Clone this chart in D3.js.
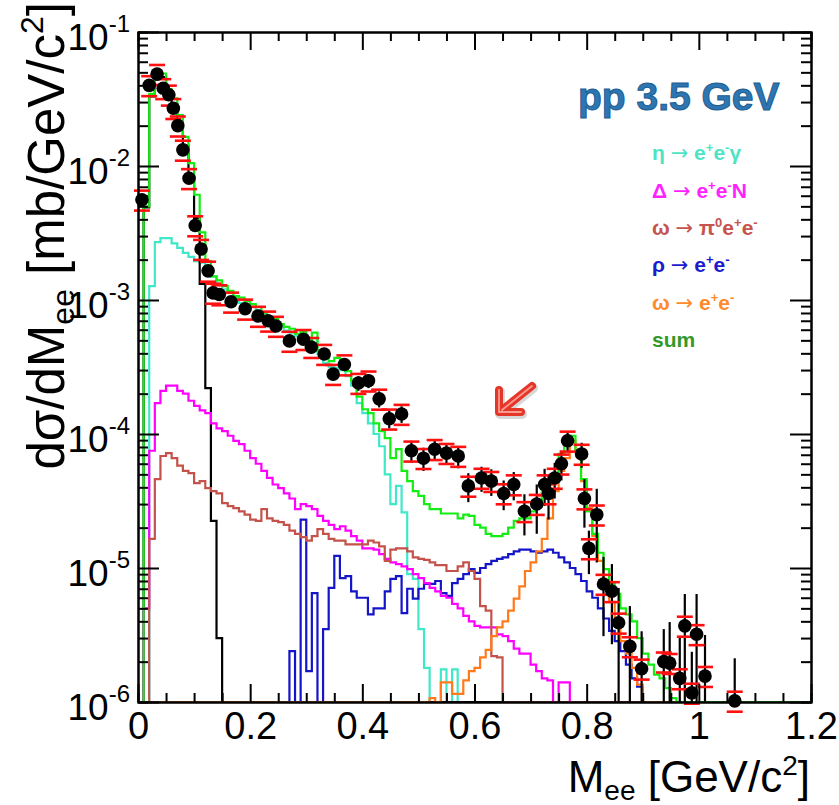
<!DOCTYPE html>
<html>
<head>
<meta charset="UTF-8">
<title>pp 3.5 GeV dielectron spectrum</title>
<script src="https://cdn.jsdelivr.net/npm/d3@7"></script>
<style>
  body { margin: 0; background: #fff; }
  svg text { font-family: "Liberation Sans", Arial, Helvetica, sans-serif; }
</style>
</head>
<body>
<svg id="chart" width="839" height="805"></svg>
<script>
// histogram bins are 0.01 GeV/c2 wide, values in mb/GeV/c2
var binWidth = 0.01;

var pi0Start = 0;
var pi0Dalitz = [0, 4.9e-3, 3.3e-2, 4.6e-2, 4.6e-2, 3.45e-2, 2.9e-2, 2.15e-2, 1.42e-2, 8.3e-3,
  4.1e-3, 1.32e-3, 2.2e-4, 2.25e-5, 3.0e-6];

var etaStart = 0;
var etaDalitz = [0, 0, 1.27e-3, 2.7e-3, 2.9e-3, 2.9e-3, 2.65e-3, 2.45e-3, 2.25e-3, 2.1e-3,
  1.95e-3, 1.9e-3, 1.7e-3, 1.5e-3, 1.32e-3, 1.2e-3, 1.13e-3, 1.04e-3, 9.5e-4, 9.2e-4,
  8.9e-4, 8.4e-4, 7.6e-4, 7.0e-4, 6.9e-4, 6.4e-4, 5.9e-4, 5.7e-4, 5.4e-4, 5.2e-4,
  4.8e-4, 5.2e-4, 3.95e-4, 3.4e-4, 3.15e-4, 3.1e-4, 3.0e-4, 2.7e-4, 2.3e-4, 1.7e-4,
  1.43e-4, 1.2e-4, 1.0e-4, 8.1e-5, 5.0e-5, 3.0e-5, 4.1e-5, 2.6e-5, 9.0e-6, 8.3e-6,
  3.5e-6, 1.8e-6, 0, 0, 1.75e-6, 1.0e-6, 1.75e-6];

var deltaStart = 0;
var deltaDalitz = [0, 5e-6, 7.5e-5, 1.7e-4, 2.1e-4, 2.3e-4, 2.3e-4, 2.1e-4, 2.0e-4, 1.77e-4,
  1.62e-4, 1.5e-4, 1.43e-4, 1.2e-4, 1.1e-4, 1.05e-4, 9.7e-5, 8.9e-5, 8.4e-5, 7.5e-5,
  6.6e-5, 6.0e-5, 5.3e-5, 4.7e-5, 4.2e-5, 3.95e-5, 3.6e-5, 3.3e-5, 2.75e-5, 3.0e-5,
  2.9e-5, 2.75e-5, 2.45e-5, 2.25e-5, 2.1e-5, 1.95e-5, 2.05e-5, 1.9e-5, 1.73e-5, 1.6e-5,
  1.4e-5, 1.4e-5, 1.37e-5, 1.27e-5, 1.17e-5, 1.1e-5, 1.07e-5, 1.03e-5, 9.8e-6, 9.0e-6,
  8.4e-6, 7.7e-6, 7.1e-6, 6.7e-6, 6.2e-6, 6.0e-6, 5.4e-6, 5.0e-6, 4.4e-6, 4.0e-6,
  3.7e-6, 3.6e-6, 3.6e-6, 3.6e-6, 3.2e-6, 3.1e-6, 2.85e-6, 2.5e-6, 2.3e-6, 2.3e-6,
  1.9e-6, 1.7e-6, 1.5e-6, 1.45e-6, 0, 1.4e-6, 1.4e-6];

var omegaDalStart = 0;
var omegaDalitz = [0, 0, 1.65e-5, 4.6e-5, 6.85e-5, 7.2e-5, 6.6e-5, 5.8e-5, 5.3e-5, 5.1e-5,
  4.3e-5, 4.45e-5, 3.95e-5, 3.75e-5, 3.6e-5, 3.05e-5, 2.9e-5, 2.8e-5, 2.65e-5, 2.5e-5,
  2.3e-5, 2.25e-5, 2.75e-5, 2.35e-5, 2.25e-5, 2.2e-5, 2.1e-5, 1.9e-5, 1.8e-5, 1.7e-5,
  1.6e-5, 1.73e-5, 1.95e-5, 1.8e-5, 1.65e-5, 1.6e-5, 1.6e-5, 1.5e-5, 1.5e-5, 1.5e-5,
  1.5e-5, 1.6e-5, 1.55e-5, 1.45e-5, 1.13e-5, 1.37e-5, 1.4e-5, 1.4e-5, 1.33e-5, 1.2e-5,
  1.17e-5, 1.15e-5, 1.1e-5, 1.05e-5, 1.05e-5, 9.5e-6, 9.5e-6, 1.03e-5, 1.1e-5, 9.5e-6,
  8.3e-6, 5.2e-6, 4.8e-6, 2.2e-6, 2.15e-6];

var rhoStart = 0.27;
var rhoEE = [2.4e-6, 0, 2.3e-5, 1.7e-6, 6.5e-6, 0, 3.5e-6, 7.1e-6, 1.23e-5, 8.4e-6,
  8.7e-6, 6.7e-6, 6.0e-6, 6.0e-6, 4.5e-6, 5.0e-6, 5.0e-6, 6.7e-6, 8.3e-6, 8.7e-6,
  4.6e-6, 7.0e-6, 5.9e-6, 7.0e-6, 7.6e-6, 7.6e-6, 8.0e-6, 6.5e-6, 6.2e-6, 7.7e-6,
  8.3e-6, 9.0e-6, 9.8e-6, 9.2e-6, 1.0e-5, 1.07e-5, 1.13e-5, 1.17e-5, 1.2e-5, 1.27e-5,
  1.33e-5, 1.37e-5, 1.37e-5, 1.33e-5, 1.3e-5, 1.33e-5, 1.37e-5, 1.3e-5, 1.2e-5, 1.1e-5,
  1.0e-5, 9.0e-6, 8.0e-6, 6.7e-6, 6.0e-6, 5.0e-6, 4.2e-6, 3.4e-6, 2.85e-6, 2.4e-6,
  1.9e-6, 1.5e-6, 1.3e-6];

var omegaEEStart = 0.52;
var omegaEE = [1.07e-6, 0, 1.4e-6, 1.4e-6, 1.15e-6, 1.15e-6, 1.45e-6, 1.7e-6, 1.8e-6, 2.15e-6,
  2.45e-6, 3.1e-6, 3.6e-6, 4.0e-6, 4.8e-6, 5.9e-6, 7.3e-6, 9.5e-6, 1.1e-5, 1.33e-5,
  1.65e-5, 2.35e-5, 3.75e-5, 5.3e-5, 6.6e-5, 8.9e-5, 7.5e-5, 4.45e-5, 2.8e-5, 1.73e-5,
  1.13e-5, 8.0e-6, 5.6e-6, 3.7e-6, 2.85e-6, 2.3e-6, 1.8e-6, 1.35e-6];

var sumStart = 0;
var sumAll = [0, 5.0e-3, 3.45e-2, 4.9e-2, 4.9e-2, 3.75e-2, 3.2e-2, 2.4e-2, 1.65e-2, 1.05e-2,
  6.1e-3, 3.2e-3, 1.95e-3, 1.5e-3, 1.4e-3, 1.27e-3, 1.17e-3, 1.07e-3, 1.04e-3, 9.8e-4,
  9.3e-4, 8.9e-4, 8.0e-4, 7.5e-4, 7.2e-4, 6.6e-4, 6.3e-4, 6.1e-4, 5.6e-4, 5.8e-4,
  4.95e-4, 5.7e-4, 4.15e-4, 3.8e-4, 3.5e-4, 3.7e-4, 3.3e-4, 2.95e-4, 2.5e-4, 1.9e-4,
  1.53e-4, 1.43e-4, 1.2e-4, 1.05e-4, 9.3e-5, 6.6e-5, 7.7e-5, 5.3e-5, 4.45e-5, 3.75e-5,
  3.45e-5, 3.0e-5, 2.75e-5, 2.75e-5, 2.55e-5, 2.55e-5, 2.55e-5, 2.35e-5, 2.5e-5, 2.45e-5,
  2.1e-5, 2.0e-5, 1.8e-5, 1.73e-5, 1.73e-5, 1.8e-5, 2.0e-5, 2.25e-5, 2.35e-5, 2.35e-5,
  2.65e-5, 2.9e-5, 3.75e-5, 4.45e-5, 5.1e-5, 7.1e-5, 8.4e-5, 9.7e-5, 7.5e-5, 4.6e-5,
  2.65e-5, 1.8e-5, 1.3e-5, 9.8e-6, 7.6e-6, 6.4e-6, 5.0e-6, 4.5e-6, 4.0e-6, 3.0e-6,
  2.3e-6, 1.9e-6, 1.6e-6, 1.5e-6, 1.27e-6, 1.07e-6];

// measured points
var dataMass = [0.007, 0.020, 0.034, 0.045, 0.055, 0.063, 0.071, 0.080, 0.091, 0.102,
  0.1125, 0.125, 0.134, 0.145, 0.166, 0.191, 0.214, 0.232, 0.246, 0.270,
  0.295, 0.309, 0.332, 0.348, 0.368, 0.393, 0.411, 0.430, 0.448, 0.470,
  0.4875, 0.509, 0.529, 0.550, 0.571, 0.589, 0.6125, 0.630, 0.652, 0.670,
  0.689, 0.711, 0.725, 0.732, 0.743, 0.755, 0.766, 0.791, 0.796, 0.804,
  0.818, 0.830, 0.845, 0.857, 0.877, 0.898, 0.9375, 0.948, 0.966, 0.975,
  0.9875, 0.996, 1.011, 1.064];
var dataValue = [5.6e-3, 4.0e-2, 4.85e-2, 3.8e-2, 3.4e-2, 2.7e-2, 2.0e-2, 1.32e-2, 8.1e-3, 3.6e-3,
  2.4e-3, 1.65e-3, 1.13e-3, 1.1e-3, 9.7e-4, 8.6e-4, 7.6e-4, 7.0e-4, 6.4e-4, 4.95e-4,
  5.1e-4, 4.45e-4, 3.95e-4, 2.8e-4, 3.3e-4, 2.4e-4, 2.5e-4, 1.83e-4, 1.3e-4, 1.41e-4,
  7.5e-5, 6.6e-5, 7.7e-5, 7.2e-5, 6.85e-5, 4.1e-5, 4.7e-5, 4.45e-5, 3.6e-5, 4.2e-5,
  2.65e-5, 3.0e-5, 4.2e-5, 3.6e-5, 4.7e-5, 6.0e-5, 8.9e-5, 7.1e-5, 3.3e-5, 1.4e-5,
  2.5e-5, 7.6e-6, 6.7e-6, 3.9e-6, 2.6e-6, 1.77e-6, 2.0e-6, 1.95e-6, 1.5e-6, 3.7e-6,
  1.17e-6, 3.2e-6, 1.56e-6, 1.02e-6];
var dataStat = [2.2e-4, 1.6e-3, 1.9e-3, 1.5e-3, 1.4e-3, 1.1e-3, 8e-4, 5e-4, 3.2e-4, 1.5e-4,
  1e-4, 7e-5, 6e-5, 6e-5, 5e-5, 5e-5, 5e-5, 4e-5, 4e-5, 4e-5,
  4e-5, 4e-5, 4e-5, 3e-5, 3e-5, 3e-5, 3e-5, 2.5e-5, 2e-5, 2e-5,
  1.4e-5, 1.3e-5, 1.4e-5, 1.3e-5, 1.3e-5, 1.0e-5, 1.0e-5, 1.0e-5, 9e-6, 1.0e-5,
  9e-6, 1.2e-5, 1.3e-5, 1.3e-5, 1.4e-5, 1.5e-5, 1.5e-5, 1.5e-5, 1.3e-5, 5e-6,
  1.4e-5, 4.5e-6, 4e-6, 3.2e-6, 2.6e-6, 1.6e-6, 1.5e-6, 2.0e-6, 1.6e-6, 2.7e-6,
  1.2e-6, 3.2e-6, 1.6e-6, 1.1e-6];
var sysFrac = 0.17;

var xTicks = [0, 0.2, 0.4, 0.6, 0.8, 1.0, 1.2];
var xTickLabels = ["0", "0.2", "0.4", "0.6", "0.8", "1", "1.2"];
var yExponents = [-6, -5, -4, -3, -2, -1];

var legendLabels = [
  [["\u03b7 ", 0], ["\u2192", 2], [" e", 0], ["+", 1], ["e", 0], ["-", 1], ["\u03b3", 0]],
  [["\u0394 ", 0], ["\u2192", 2], [" e", 0], ["+", 1], ["e", 0], ["-", 1], ["N", 0]],
  [["\u03c9 ", 0], ["\u2192", 2], [" \u03c0", 0], ["0", 1], ["e", 0], ["+", 1], ["e", 0], ["-", 1]],
  [["\u03c1 ", 0], ["\u2192", 2], [" e", 0], ["+", 1], ["e", 0], ["-", 1]],
  [["\u03c9 ", 0], ["\u2192", 2], [" e", 0], ["+", 1], ["e", 0], ["-", 1]],
  [["sum", 0]]
];
var legendColors = ["#4fe3c6", "#ff22ff", "#c6534c", "#1c1ccc", "#ff8a2a", "#33992a"];

var svg = d3.select("#chart");
var plotLeft = 138, plotRight = 811, plotTop = 32, plotBottom = 702;
var yMin = 1e-6;

var x = d3.scaleLinear().domain([0, 1.2]).range([plotLeft, plotRight]);
var y = d3.scaleLog().domain([yMin, 1e-1]).range([plotBottom, plotTop]);

svg.append("defs").append("clipPath").attr("id", "plot")
  .append("rect").attr("x", plotLeft).attr("y", plotTop - 1)
  .attr("width", plotRight - plotLeft).attr("height", plotBottom - plotTop + 1);

function histPoints(start, vals) {
  var nBins = Math.round(1.2 / binWidth);
  var first = Math.round(start / binWidth);
  var pts = [];
  for (var b = 0; b < nBins; b++) {
    var k = b - first;
    var v = (k >= 0 && k < vals.length) ? vals[k] : 0;
    v = Math.max(v, yMin);
    pts.push([b * binWidth, v], [(b + 1) * binWidth, v]);
  }
  return pts;
}
var line = d3.line().x(function(d) { return x(d[0]); }).y(function(d) { return y(d[1]); });

var hists = [
  [etaStart, etaDalitz, "#3fe8c8"],
  [pi0Start, pi0Dalitz, "#000000"],
  [rhoStart, rhoEE, "#1414c8"],
  [deltaStart, deltaDalitz, "#ff00ff"],
  [omegaDalStart, omegaDalitz, "#c4524b"],
  [omegaEEStart, omegaEE, "#ff7a1a"],
  [sumStart, sumAll, "#12ee12"]
];

var gh = svg.append("g").attr("clip-path", "url(#plot)");
gh.selectAll("path").data(hists).enter().append("path")
  .attr("d", function(h) { return line(histPoints(h[0], h[1])); })
  .attr("fill", "none")
  .attr("stroke", function(h) { return h[2]; })
  .attr("stroke-width", 2.2);

// data points
var pts = dataMass.map(function(m, i) { return { m: m, v: dataValue[i], e: dataStat[i] }; });
var gd = svg.append("g");
gd.selectAll("line.stat").data(pts).enter().append("line")
  .attr("class", "stat")
  .attr("x1", function(d) { return x(d.m); }).attr("x2", function(d) { return x(d.m); })
  .attr("y1", function(d) { return y(d.v + d.e); })
  .attr("y2", function(d) { return y(Math.max(d.v - d.e, yMin)); })
  .attr("stroke", "#000").attr("stroke-width", 2.2);
[1 + sysFrac, 1 - sysFrac].forEach(function(f) {
  gd.selectAll(null).data(pts).enter().append("line")
    .attr("x1", function(d) { return x(d.m) - 8; }).attr("x2", function(d) { return x(d.m) + 8; })
    .attr("y1", function(d) { return y(d.v * f); }).attr("y2", function(d) { return y(d.v * f); })
    .attr("stroke", "#ff1010").attr("stroke-width", 2.6);
});
gd.selectAll("circle").data(pts).enter().append("circle")
  .attr("cx", function(d) { return x(d.m); })
  .attr("cy", function(d) { return y(d.v); })
  .attr("r", 6.8).attr("fill", "#000");

// axes with inward ticks on all four sides
var xMinor = d3.range(0, 1.2001, 0.05).filter(function(v, i) { return i % 4 !== 0; });
var yMajor = yExponents.map(function(e) { return Math.pow(10, e); });
var yMinor = [];
yExponents.slice(0, -1).forEach(function(e) {
  for (var m = 2; m <= 9; m++) yMinor.push(m * Math.pow(10, e));
});

function styleAxis(g) {
  g.selectAll("path.domain").attr("stroke", "#000").attr("stroke-width", 2);
  g.selectAll(".tick line").attr("stroke", "#000").attr("stroke-width", 2);
}

var axB = svg.append("g").attr("transform", "translate(0," + plotBottom + ")")
  .call(d3.axisBottom(x).tickValues(xTicks).tickSize(-18).tickSizeOuter(0).tickPadding(10)
    .tickFormat(function(d, i) { return xTickLabels[i]; }));
axB.selectAll("text").attr("font-size", 38).attr("fill", "#000");
svg.append("g").attr("transform", "translate(0," + plotBottom + ")")
  .call(d3.axisBottom(x).tickValues(xMinor).tickSize(-9).tickFormat("")).call(styleAxis);
styleAxis(axB);

svg.append("g").attr("transform", "translate(0," + plotTop + ")")
  .call(d3.axisTop(x).tickValues(xTicks).tickSize(-18).tickSizeOuter(0).tickFormat("")).call(styleAxis);
svg.append("g").attr("transform", "translate(0," + plotTop + ")")
  .call(d3.axisTop(x).tickValues(xMinor).tickSize(-9).tickFormat("")).call(styleAxis);

var axL = svg.append("g").attr("transform", "translate(" + plotLeft + ",0)")
  .call(d3.axisLeft(y).tickValues(yMajor).tickSize(-21).tickSizeOuter(0).tickPadding(8).tickFormat(""));
styleAxis(axL);
axL.selectAll(".tick text").each(function(d) {
  var t = d3.select(this).attr("font-size", 37).attr("fill", "#000").attr("dy", "0.47em");
  t.append("tspan").text("10");
  t.append("tspan").attr("font-size", 24).attr("dy", -18).text(String(Math.round(Math.log10(d))));
});
svg.append("g").attr("transform", "translate(" + plotLeft + ",0)")
  .call(d3.axisLeft(y).tickValues(yMinor).tickSize(-10).tickFormat("")).call(styleAxis);

svg.append("g").attr("transform", "translate(" + plotRight + ",0)")
  .call(d3.axisRight(y).tickValues(yMajor).tickSize(-21).tickSizeOuter(0).tickFormat("")).call(styleAxis);
svg.append("g").attr("transform", "translate(" + plotRight + ",0)")
  .call(d3.axisRight(y).tickValues(yMinor).tickSize(-10).tickFormat("")).call(styleAxis);

// axis titles
var xt = svg.append("text").attr("x", 810).attr("y", 792).attr("text-anchor", "end")
  .attr("font-size", 44).attr("fill", "#000");
xt.append("tspan").text("M");
xt.append("tspan").attr("font-size", 28).attr("dy", 8).text("ee");
xt.append("tspan").attr("dy", -8).text(" [GeV/c");
xt.append("tspan").attr("font-size", 28).attr("dy", -17).text("2");
xt.append("tspan").attr("dy", 17).text("]");

var yt = svg.append("text").attr("transform", "translate(64,2) rotate(-90)")
  .attr("text-anchor", "end").attr("font-size", 51).attr("fill", "#000");
yt.append("tspan").text("d\u03c3/dM");
yt.append("tspan").attr("font-size", 32).attr("dy", 10).text("ee");
yt.append("tspan").attr("dy", -10).text(" [mb/GeV/c");
yt.append("tspan").attr("font-size", 32).attr("dy", -21).text("2");
yt.append("tspan").attr("dy", 21).text("]");

// label and legend
svg.append("text").attr("x", 578).attr("y", 110)
  .attr("font-size", 39).attr("font-weight", "bold")
  .attr("fill", "#2e76b2").attr("stroke", "#1d5d90").attr("stroke-width", 1)
  .text("pp 3.5 GeV");

var legendY = [160, 197.5, 235, 272, 309.5, 347];
legendLabels.forEach(function(parts, i) {
  var t = svg.append("text").attr("x", 652).attr("y", legendY[i])
    .attr("font-size", 21).attr("font-weight", "bold").attr("fill", legendColors[i]);
  var shift = 0;
  parts.forEach(function(p) {
    var target = p[1] === 1 ? -8 : 0;
    var ts = t.append("tspan").attr("font-size", p[1] === 1 ? 13 : 21)
      .attr("dy", target - shift).text(p[0]);
    if (p[1] === 2) ts.attr("font-family", "DejaVu Sans").attr("font-weight", "normal");
    shift = target;
  });
});

// red arrow
var arrowPath = "M532,386 L502,410 M499,390 L499,412 L521,412";
var arrow = svg.append("g");
arrow.append("path").attr("d", arrowPath)
  .attr("fill", "none").attr("stroke", "#b0b0b0").attr("stroke-width", 10)
  .attr("stroke-linecap", "round").attr("stroke-linejoin", "round").attr("opacity", 0.5)
  .attr("transform", "translate(1,2)");
arrow.append("path").attr("d", arrowPath)
  .attr("fill", "none").attr("stroke", "#e5362a").attr("stroke-width", 8)
  .attr("stroke-linecap", "round").attr("stroke-linejoin", "round");
arrow.append("path").attr("d", arrowPath)
  .attr("fill", "none").attr("stroke", "#ff9a90").attr("stroke-width", 1.8)
  .attr("stroke-linecap", "round").attr("stroke-linejoin", "round");
</script>
</body>
</html>
